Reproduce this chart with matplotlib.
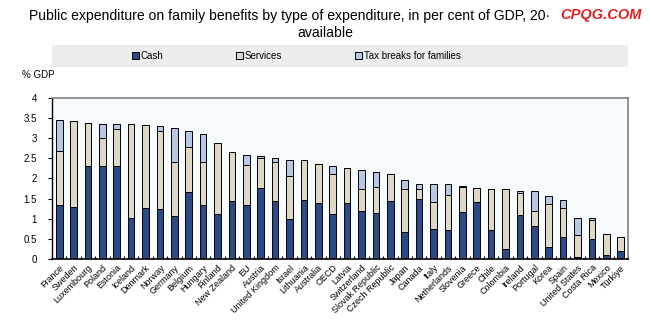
import numpy as np
import matplotlib
matplotlib.use("Agg")
from matplotlib import pyplot as plt
from matplotlib.patches import Rectangle

# countries, sorted by total
countries = ["France", "Sweden", "Luxembourg", "Poland", "Estonia", "Iceland", "Denmark",
             "Norway", "Germany", "Belgium", "Hungary", "Finland", "New Zealand", "EU",
             "Austria", "United Kingdom", "Israel", "Lithuania", "Australia", "OECD",
             "Latvia", "Switzerland", "Slovak Republic", "Czech Republic", "Japan",
             "Canada", "Italy", "Netherlands", "Slovenia", "Greece", "Chile", "Colombia",
             "Ireland", "Portugal", "Korea", "Spain", "United States", "Costa Rica",
             "Mexico", "Türkiye"]

cash = [1.34, 1.29, 2.31, 2.30, 2.31, 1.03, 1.27, 1.23, 1.08, 1.67,
        1.35, 1.11, 1.44, 1.35, 1.77, 1.44, 0.99, 1.47, 1.39, 1.13,
        1.38, 1.19, 1.14, 1.43, 0.67, 1.48, 0.75, 0.71, 1.17, 1.41,
        0.72, 0.25, 1.09, 0.82, 0.31, 0.54, 0.06, 0.50, 0.09, 0.19]
services = [1.35, 2.14, 1.06, 0.71, 0.91, 2.32, 2.06, 1.96, 1.34, 1.10,
            1.05, 1.78, 1.21, 0.99, 0.73, 0.98, 1.07, 0.99, 0.97, 0.98,
            0.89, 0.54, 0.65, 0.67, 1.07, 0.27, 0.66, 0.87, 0.63, 0.36,
            1.03, 1.50, 0.54, 0.38, 1.05, 0.72, 0.54, 0.48, 0.53, 0.35]
tax = [0.76, 0.0, 0.0, 0.35, 0.13, 0.0, 0.0, 0.10, 0.82, 0.41,
       0.70, 0.0, 0.0, 0.23, 0.05, 0.08, 0.41, 0.0, 0.0, 0.19,
       0.0, 0.49, 0.36, 0.02, 0.21, 0.12, 0.46, 0.29, 0.02, 0.0,
       0.0, 0.0, 0.07, 0.48, 0.20, 0.21, 0.43, 0.03, 0.0, 0.0]

c_cash = "#2c4a86"
c_serv = "#ded9c6"
c_tax = "#b8c8e4"

plt.rcParams['font.family'] = ['Liberation Sans', 'DejaVu Sans']
narrow = ['Liberation Sans Narrow', 'Liberation Sans']

fig = plt.figure(figsize=(6.5, 3.23), dpi=100)
ax = fig.add_axes([0.08, 0.198, 0.886, 0.499])
ax.set_facecolor("#f8fbfe")

x = np.arange(len(countries))
cash = np.array(cash)
services = np.array(services)
tax = np.array(tax)
w = 0.46
b1 = ax.bar(x, cash, w, color=c_cash, edgecolor="black", linewidth=0.7, label="Cash")
b2 = ax.bar(x, services, w, bottom=cash, color=c_serv, edgecolor="black", linewidth=0.7, label="Services")
b3 = ax.bar(x, tax, w, bottom=cash + services, color=c_tax, edgecolor="black", linewidth=0.7,
            label="Tax breaks for families")

ax.set_xlim(-0.5, len(countries) - 0.5)
ax.set_ylim(0, 4)
ax.set_yticks(np.arange(0, 4.01, 0.5))
ax.set_yticklabels(["0", "0.5", "1", "1.5", "2", "2.5", "3", "3.5", "4"], fontsize=7)
ax.tick_params(axis="y", length=3, width=0.8, pad=8)

ax.set_xticks(x)
ax.set_xticklabels(countries, rotation=45, ha="right", rotation_mode="anchor",
                   fontsize=6.5, family=narrow)
ax.tick_params(axis="x", length=0, pad=3)
ax.set_xticks(np.arange(-0.5, len(countries), 1), minor=True)
ax.tick_params(axis="x", which="minor", direction="in", length=2.5, width=0.8)

for s in ["top", "right"]:
    ax.spines[s].set_color("#808080")
    ax.spines[s].set_linewidth(1.2)
ax.spines["left"].set_linewidth(1.0)
ax.spines["bottom"].set_linewidth(1.2)

# legend strip
fig.patches.append(Rectangle((0.08, 0.793), 0.886, 0.068, transform=fig.transFigure,
                             facecolor="#ececec", edgecolor="none", zorder=0))
fig.legend(handles=[b1, b2, b3], loc="center", bbox_to_anchor=(0.456, 0.827), ncol=3,
           frameon=False, handlelength=0.7, handleheight=0.7,
           handletextpad=0.2, columnspacing=7.5, prop={'family': narrow, 'size': 7})

fig.text(0.034, 0.767, "% GDP", fontsize=7, va="center", family=narrow)

fig.text(0.045, 0.95, "Public expenditure on family benefits by type of expenditure, in per cent of GDP, 20·",
         fontsize=10.1, va="center", ha="left")
fig.text(0.5, 0.898, "available", fontsize=10.1, va="center", ha="center")
fig.text(0.862, 0.955, "CPQG.COM", fontsize=10.5, color="#e02020", fontweight="bold",
         style="italic", va="center", ha="left")

fig.savefig("out.png", dpi=100)
